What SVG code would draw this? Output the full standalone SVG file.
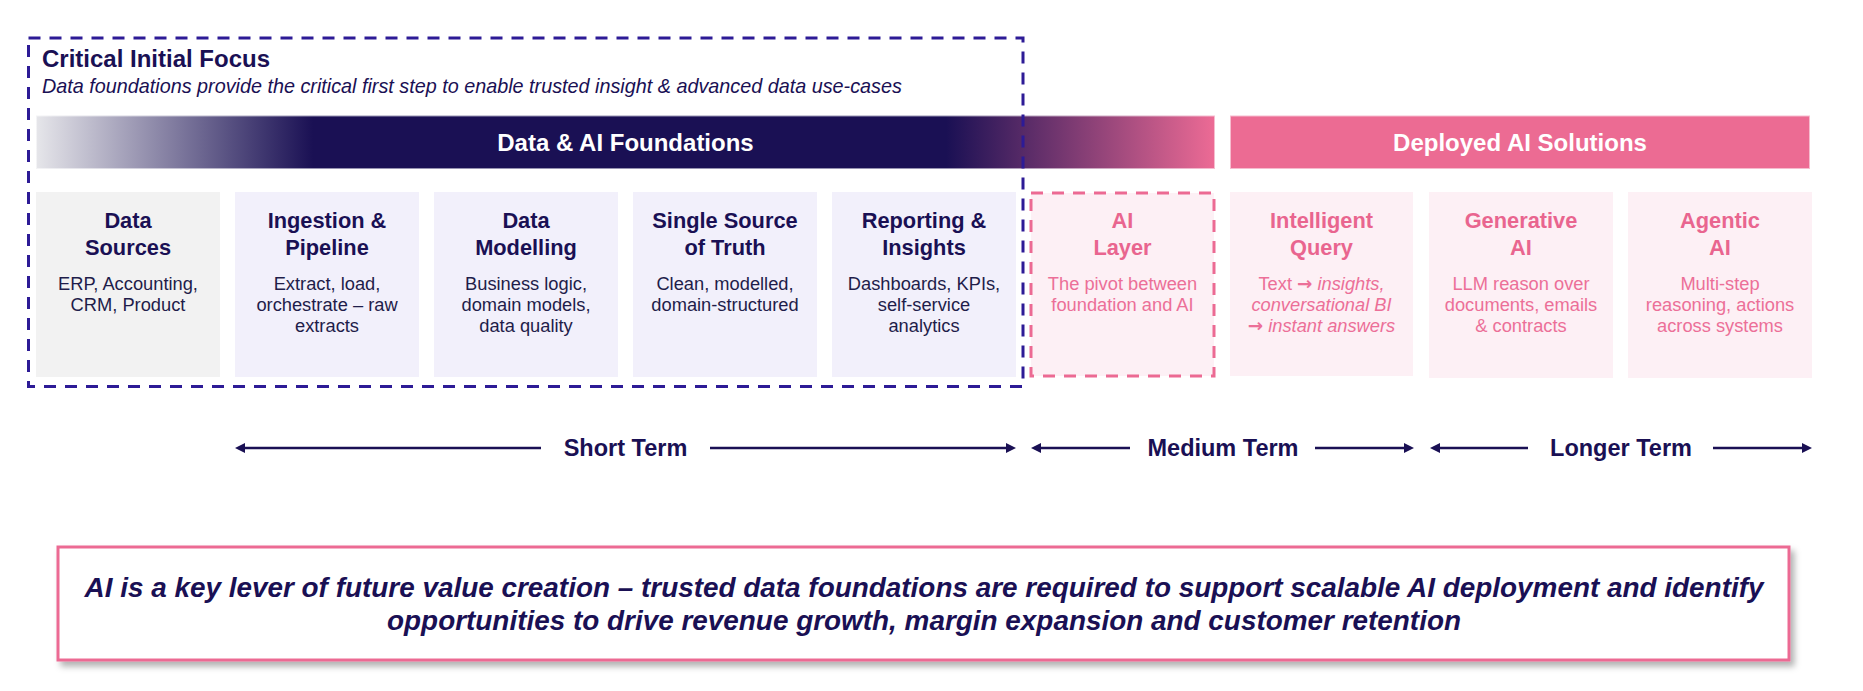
<svg xmlns="http://www.w3.org/2000/svg" width="1863" height="691" viewBox="0 0 1863 691">
<defs>
<linearGradient id="gFound" x1="36" y1="0" x2="1215" y2="0" gradientUnits="userSpaceOnUse">
<stop offset="0" stop-color="#e6e6ea"/>
<stop offset="0.235" stop-color="#1a1054"/>
<stop offset="0.772" stop-color="#1a1054"/>
<stop offset="1" stop-color="#ed6b95"/>
</linearGradient>
<marker id="arr" viewBox="0 0 10 10" refX="4" refY="5" markerWidth="10" markerHeight="10" markerUnits="userSpaceOnUse" orient="auto-start-reverse">
<path d="M0,0 L10,5 L0,10 z" fill="#1a1054"/>
</marker>
<filter id="shadow" x="-5%" y="-20%" width="110%" height="150%">
<feDropShadow dx="4" dy="5" stdDeviation="3" flood-color="#000" flood-opacity="0.3"/>
</filter>
</defs>
<style>
text{font-family:"Liberation Sans",Arial,Helvetica,sans-serif;}
.bar{stroke:#ffffff;stroke-opacity:0.55;stroke-width:2;}
.barT{font-size:24px;font-weight:bold;fill:#ffffff;text-anchor:middle;}
.card{fill:#f2f0fb;}
.cardG{fill:#f2f2f2;}
.cardP{fill:#fdf0f5;}
.t{font-size:21.8px;font-weight:bold;fill:#1a1054;text-anchor:middle;}
.d{font-size:18.3px;fill:#1f1d4a;text-anchor:middle;}
.tp{font-size:21.8px;font-weight:bold;fill:#e9658f;text-anchor:middle;}
.dp{font-size:18.3px;fill:#ec6f98;text-anchor:middle;}
.it{font-style:italic;}
.ar{font-family:"DejaVu Sans",sans-serif;font-weight:bold;font-style:normal;}
.term{font-size:23.5px;font-weight:bold;fill:#1a1054;text-anchor:middle;}
.tl{stroke:#1a1054;stroke-width:2.5;fill:none;marker-end:url(#arr);}
.sum{font-size:27.9px;font-weight:bold;font-style:italic;fill:#1a1054;text-anchor:middle;}
</style>
<rect width="1863" height="691" fill="#ffffff"/>

<g id="bar-foundations">
<rect class="bar" x="36" y="115.5" width="1179" height="53.5" fill="url(#gFound)"/>
<text class="barT" x="625.5" y="150.5">Data &amp; AI Foundations</text>
</g>
<g id="bar-deployed">
<rect class="bar" x="1230" y="115.5" width="580" height="53.5" fill="#ec6b93"/>
<text class="barT" x="1520" y="150.5">Deployed AI Solutions</text>
</g>

<g id="card-data-sources">
<rect class="cardG" x="36" y="192" width="184" height="185"/>
<text class="t" x="128" y="228">Data</text>
<text class="t" x="128" y="255">Sources</text>
<text class="d" x="128" y="290">ERP, Accounting,</text>
<text class="d" x="128" y="311">CRM, Product</text>
</g>
<g id="card-ingestion">
<rect class="card" x="235" y="192" width="184" height="185"/>
<text class="t" x="327" y="228">Ingestion &amp;</text>
<text class="t" x="327" y="255">Pipeline</text>
<text class="d" x="327" y="290">Extract, load,</text>
<text class="d" x="327" y="311">orchestrate – raw</text>
<text class="d" x="327" y="332">extracts</text>
</g>
<g id="card-modelling">
<rect class="card" x="434" y="192" width="184" height="185"/>
<text class="t" x="526" y="228">Data</text>
<text class="t" x="526" y="255">Modelling</text>
<text class="d" x="526" y="290">Business logic,</text>
<text class="d" x="526" y="311">domain models,</text>
<text class="d" x="526" y="332">data quality</text>
</g>
<g id="card-ssot">
<rect class="card" x="633" y="192" width="184" height="185"/>
<text class="t" x="725" y="228">Single Source</text>
<text class="t" x="725" y="255">of Truth</text>
<text class="d" x="725" y="290">Clean, modelled,</text>
<text class="d" x="725" y="311">domain-structured</text>
</g>
<g id="card-reporting">
<rect class="card" x="832" y="192" width="184" height="185"/>
<text class="t" x="924" y="228">Reporting &amp;</text>
<text class="t" x="924" y="255">Insights</text>
<text class="d" x="924" y="290">Dashboards, KPIs,</text>
<text class="d" x="924" y="311">self-service</text>
<text class="d" x="924" y="332">analytics</text>
</g>

<g id="critical-initial-focus">
<rect x="28.5" y="38" width="994.5" height="348.5" fill="none" stroke="#2d1b96" stroke-width="3" stroke-dasharray="12 9"/>
<text x="42" y="67" style="font-size:24px;font-weight:bold;fill:#1a1054;">Critical Initial Focus</text>
<text x="42" y="92.5" style="font-size:19.8px;font-style:italic;fill:#1a1054;">Data foundations provide the critical first step to enable trusted insight &amp; advanced data use-cases</text>
</g>

<g id="card-ai-layer">
<rect class="cardP" x="1031" y="193" width="183" height="183" stroke="#ec6a93" stroke-width="3" stroke-dasharray="12 9"/>
<text class="tp" x="1122.5" y="228">AI</text>
<text class="tp" x="1122.5" y="255">Layer</text>
<text class="dp" x="1122.5" y="290">The pivot between</text>
<text class="dp" x="1122.5" y="311">foundation and AI</text>
</g>
<g id="card-intelligent-query">
<rect class="cardP" x="1230" y="192" width="183" height="184"/>
<text class="tp" x="1321.5" y="228">Intelligent</text>
<text class="tp" x="1321.5" y="255">Query</text>
<text class="dp" x="1321.5" y="290">Text <tspan class="ar">→</tspan> <tspan class="it">insights,</tspan></text>
<text class="dp it" x="1321.5" y="311">conversational BI</text>
<text class="dp" x="1321.5" y="332"><tspan class="ar">→</tspan> <tspan class="it">instant answers</tspan></text>
</g>
<g id="card-generative-ai">
<rect class="cardP" x="1429" y="192" width="184" height="186"/>
<text class="tp" x="1521" y="228">Generative</text>
<text class="tp" x="1521" y="255">AI</text>
<text class="dp" x="1521" y="290">LLM reason over</text>
<text class="dp" x="1521" y="311">documents, emails</text>
<text class="dp" x="1521" y="332">&amp; contracts</text>
</g>
<g id="card-agentic-ai">
<rect class="cardP" x="1628" y="192" width="184" height="186"/>
<text class="tp" x="1720" y="228">Agentic</text>
<text class="tp" x="1720" y="255">AI</text>
<text class="dp" x="1720" y="290">Multi-step</text>
<text class="dp" x="1720" y="311">reasoning, actions</text>
<text class="dp" x="1720" y="332">across systems</text>
</g>

<g id="connectors">
<line class="tl" x1="541" y1="448" x2="241" y2="448"/>
<line class="tl" x1="710" y1="448" x2="1010" y2="448"/>
<line class="tl" x1="1130" y1="448" x2="1037" y2="448"/>
<line class="tl" x1="1315" y1="448" x2="1408" y2="448"/>
<line class="tl" x1="1528" y1="448" x2="1436" y2="448"/>
<line class="tl" x1="1713" y1="448" x2="1806" y2="448"/>
</g>
<g id="term-labels">
<text class="term" x="625.5" y="456">Short Term</text>
<text class="term" x="1223" y="456">Medium Term</text>
<text class="term" x="1621" y="456">Longer Term</text>
</g>

<g id="summary-box">
<rect x="58" y="547" width="1731" height="113" fill="#ffffff" stroke="#ec6a93" stroke-width="3" filter="url(#shadow)"/>
<text class="sum" x="924" y="596.5">AI is a key lever of future value creation – trusted data foundations are required to support scalable AI deployment and identify</text>
<text class="sum" x="924" y="630">opportunities to drive revenue growth, margin expansion and customer retention</text>
</g>
</svg>
